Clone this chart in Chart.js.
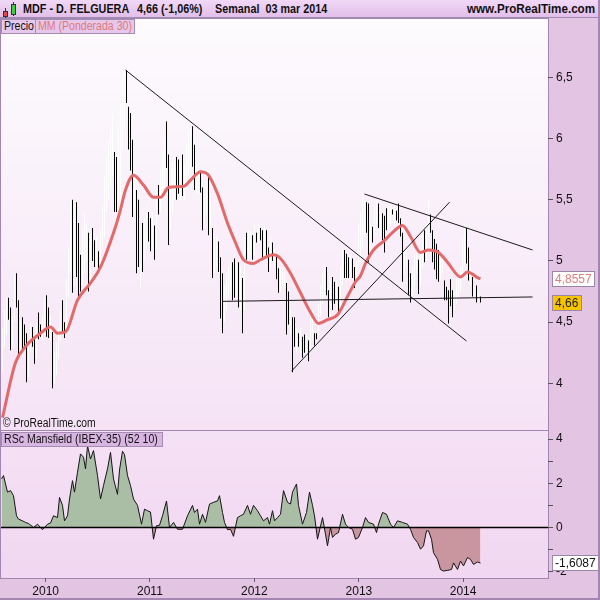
<!DOCTYPE html>
<html lang="es">
<head>
<meta charset="utf-8">
<title>MDF - D. FELGUERA</title>
<script src="https://cdn.jsdelivr.net/npm/chart.js@4.4.1/dist/chart.umd.min.js"></script>
<style>
  html, body { margin: 0; padding: 0; }
  body { width: 600px; height: 600px; position: relative; overflow: hidden; background: #e3c4e2; font-family: "Liberation Sans", Arial, sans-serif; }
  canvas { position: absolute; left: 0; }
  #main { top: 18px; }
  #rsc { top: 430px; }
  #head { position: absolute; left: 0; top: 0; width: 600px; height: 18px; box-sizing: border-box; background: linear-gradient(#f1d8f6, #e2bfe9); border-bottom: 1px solid #a58ab4; }
  .t { position: absolute; top: 2px; font-size: 12px; font-weight: bold; color: #111; white-space: nowrap; transform: scaleX(.9); transform-origin: left; }
  .tag { position: absolute; height: 15px; line-height: 13px; box-sizing: border-box; border: 1px solid #a58cb3; background: #e5c8eb; padding: 0 2px; white-space: nowrap; font-size: 12px; color: #111; }
  .tag span { display: inline-block; transform: scaleX(.88); transform-origin: left; }
  .candle { position: absolute; width: 5px; box-sizing: border-box; border: 1px solid #333; }
  .wick { position: absolute; width: 1px; background: #333; }
  #copy { position: absolute; left: 3px; top: 416px; font-size: 12px; color: #111; transform: scaleX(.86); transform-origin: left; white-space: nowrap; }
  #frame { position: absolute; left: 0; top: 0; width: 600px; height: 600px; box-sizing: border-box; border-right: 2px solid #a586b3; border-bottom: 2px solid #a586b3; pointer-events: none; }
</style>
</head>
<body>
<canvas id="main" width="600" height="412"></canvas>
<canvas id="rsc" width="600" height="170"></canvas>

<div id="head">
  <div class="wick" style="left:5px;top:8px;height:10px"></div>
  <div class="candle" style="left:3px;top:11px;height:6px;background:#e34848"></div>
  <div class="wick" style="left:13px;top:2px;height:14px"></div>
  <div class="candle" style="left:11px;top:4px;height:11px;background:#3fcf3f"></div>
  <span class="t" style="left:23px">MDF - D. FELGUERA</span>
  <span class="t" style="left:137px">4,66 (-1,06%)</span>
  <span class="t" style="left:215px">Semanal&nbsp;&nbsp;03 mar 2014</span>
  <span class="t" style="left:467px;transform:scaleX(.97)">www.ProRealTime.com</span>
</div>
<div class="tag" style="left:1px;top:19px;width:35px"><span>Precio</span></div>
<div class="tag" style="left:35px;top:19px;width:100px;color:#e07878"><span>MM (Ponderada 30)</span></div>
<div id="copy">© ProRealTime.com</div>
<div class="tag" style="left:1px;top:432px;width:162px;background:#d9b6e2"><span>RSc Mansfield (IBEX-35) (52 10)</span></div>
<div id="frame"></div>

<script>
// semanas: indice 0 = primera vela visible, 239 = 03 mar 2014
var highs = [
  4.45,4.60,4.70,4.70,4.62,4.55,4.88,4.90,4.68,4.50,
  4.54,4.48,4.41,4.30,4.50,4.46,4.37,4.50,4.58,4.48,
  4.55,4.70,4.72,4.62,4.55,4.42,4.25,4.33,4.45,4.60,
  4.68,4.50,4.85,5.11,5.50,5.50,5.45,5.48,5.31,5.05,
  5.25,5.40,5.30,5.23,5.20,5.27,5.17,5.20,5.08,5.25,
  5.45,5.70,5.85,5.97,6.10,6.20,5.89,5.85,6.10,6.30,
  6.50,6.57,6.56,6.26,6.21,5.99,5.70,5.58,5.50,4.98,
  5.31,5.35,5.45,5.40,5.35,5.40,5.29,5.50,5.62,5.75,
  5.90,6.00,6.14,5.87,5.60,5.80,5.85,5.85,5.83,5.80,
  5.87,5.80,5.95,6.05,6.10,6.10,5.95,5.80,5.75,5.72,
  5.60,5.55,5.65,5.70,5.50,5.27,5.20,5.20,5.16,5.03,
  4.90,4.80,4.90,4.95,5.00,4.99,5.02,5.00,4.99,4.95,
  4.86,5.20,5.23,5.25,5.25,5.21,5.30,5.23,5.30,5.27,
  5.25,5.28,5.25,5.11,5.20,5.15,5.10,5.05,4.94,4.95,
  4.95,4.90,4.82,4.75,4.60,4.54,4.54,4.45,4.41,4.45,
  4.38,4.40,4.40,4.35,4.55,4.60,4.41,4.41,4.65,4.80,
  4.90,4.97,4.95,4.76,4.85,4.87,4.83,4.85,4.79,4.95,
  5.09,5.09,5.06,5.03,5.05,5.02,4.95,5.00,5.30,5.40,
  5.55,5.50,5.48,5.47,5.30,5.28,5.45,5.50,5.47,5.40,
  5.39,5.37,5.43,5.45,5.45,5.42,5.45,5.41,5.47,5.35,
  5.23,5.10,5.10,5.01,4.90,4.95,5.05,5.05,5.01,5.10,
  5.25,5.25,5.30,5.50,5.38,5.25,5.18,5.14,5.09,5.05,
  5.05,4.84,4.79,4.76,4.85,4.76,4.75,4.85,4.90,4.95,
  5.20,5.30,5.27,5.11,4.95,4.87,4.80,4.80,4.75,4.71
];
var lows = [
  4.10,4.30,4.40,4.52,4.27,4.30,4.50,4.62,4.22,4.25,
  4.27,4.30,4.01,4.05,4.25,4.30,4.16,4.20,4.36,4.38,
  4.35,4.45,4.38,4.37,4.35,3.96,4.00,4.07,4.20,4.35,
  4.41,4.37,4.45,4.70,4.90,4.74,4.80,4.87,4.70,4.75,
  4.80,4.90,5.00,4.75,4.85,5.00,4.95,4.95,4.93,4.95,
  5.10,5.20,5.40,5.50,5.60,5.70,5.40,5.40,5.50,5.50,
  5.90,6.10,6.29,5.91,5.74,5.36,5.40,4.90,4.95,4.78,
  4.91,5.00,5.10,5.16,5.08,5.10,5.01,5.10,5.38,5.40,
  5.55,5.60,5.76,5.13,5.25,5.40,5.50,5.50,5.55,5.50,
  5.53,5.50,5.60,5.70,5.75,5.77,5.58,5.55,5.55,5.56,
  5.25,5.30,5.40,5.21,5.25,4.86,4.90,4.95,4.91,4.53,
  4.41,4.50,4.60,4.70,4.75,4.68,4.70,4.72,4.62,4.60,
  4.41,4.60,5.01,5.00,5.05,5.01,5.05,5.15,5.15,5.17,
  5.01,5.05,5.03,4.91,4.95,5.00,4.95,4.85,4.74,4.75,
  4.80,4.78,4.40,4.48,4.40,4.09,4.30,4.25,4.30,4.25,
  4.21,4.25,4.22,4.18,4.25,4.35,4.31,4.36,4.40,4.55,
  4.65,4.70,4.72,4.54,4.55,4.60,4.65,4.60,4.57,4.60,
  4.80,4.86,4.86,4.86,4.85,4.86,4.78,4.80,4.95,5.00,
  5.10,5.20,5.23,4.99,5.05,5.15,5.20,5.30,5.27,5.20,
  5.17,5.07,5.25,5.25,5.30,5.38,5.30,5.33,5.31,5.20,
  4.83,4.90,4.95,4.72,4.66,4.70,4.80,4.90,4.73,4.80,
  4.95,4.99,5.00,5.20,5.23,4.99,4.93,4.85,4.83,4.85,
  4.90,4.68,4.68,4.49,4.63,4.54,4.60,4.65,4.70,4.75,
  4.85,4.95,4.98,4.84,4.80,4.71,4.70,4.66,4.66,4.66
];
// u = semana alcista (barra blanca), d = bajista (barra negra)
var dirs = 'uuudduuddu' + 'ddduuddudd' + 'uudduduuuu' + 'dduuududdd' + 'uuududdudu' +
           'uuuuuudduu' + 'uudddduddu' + 'duuddududu' + 'uudduuuddu' + 'duuuudduud' +
           'duududuudd' + 'duuuuddudu' + 'duduududud' + 'duddududdu' + 'uudduddudu' +
           'dduduudduu' + 'uudduddudu' + 'udddudduuu' + 'uudduduudu' + 'ddduududdd' +
           'duudduuudu' + 'uduudddddu' + 'uddddduuuu' + 'uuddududud';

// media movil ponderada 30
var maWeek = [0,6.5,11.5,19,24,27.5,31.5,37.5,44,49,56.5,59,61.5,65.5,70.5,75.5,79,83,90.5,94,
  99,102.5,107.5,112.5,116.5,120.5,125.5,129,135.5,139,144,149,154,158,162.5,167.5,172.5,176.5,179,181.5,
  185.5,190.5,195.5,200,204,209,213,218,222.5,229,232.5,238,239];
var maValue = [3.72,4.17,4.30,4.41,4.46,4.41,4.42,4.68,4.82,4.95,5.28,5.42,5.58,5.70,5.62,5.52,5.52,5.60,5.61,5.66,
  5.73,5.71,5.55,5.31,5.15,5.01,4.98,5.01,5.05,5.02,4.90,4.74,4.58,4.49,4.52,4.56,4.71,4.83,4.88,4.98,
  5.09,5.16,5.24,5.29,5.20,5.07,5.09,5.07,4.99,4.87,4.91,4.86,4.8557];

// lineas de tendencia: [semana inicio, precio inicio, semana fin, precio fin]
var trendLines = [
  [61.5, 6.56, 232, 4.346],
  [181, 5.547, 265, 5.09],
  [144.5, 4.10, 223.5, 5.48],
  [110, 4.67, 265, 4.706]
];

// RSc Mansfield (IBEX-35)
var rscWeek = [-0.5,0.5,2.5,4,5.5,7,8,10,11.5,13,15.5,17.5,20,22.5,24,25.5,27.5,28.5,30,31,
  32.5,33.5,35,36,37.5,39,40.5,41.5,42.5,44,45.5,47.5,49,50.5,52.5,54,55.5,57.5,58.5,60,
  61,62.5,64,65.5,67.5,69.5,71,72.5,74,75.5,77,78.5,80,82,83.5,85.5,87.5,90,92.5,95,
  96,97.5,98.5,100,101.5,103.5,105.5,107.5,108.5,110,111,112.5,114,115.5,117.5,119,120.5,122.5,124,125.5,
  127.5,129,130.5,132.5,133.5,135,136,137.5,139,140.5,142.5,144,145,147,148,150,152,153.5,155,156,
  157.5,160,161.5,162.5,164,165,166.5,168,170,171.5,173,175,176.5,178,180,181.5,183,185.5,187,188,
  190,192,194,195.5,197.5,200,202.5,204,205.5,207.5,209,210.5,212,213,214.5,215.5,217.5,219,220.5,222.5,
  224.5,225.5,227.5,229,230.5,232.5,234,235.5,237.5,239];
var rscValue = [2.2,2.35,1.6,1.67,1.44,0.53,0.38,0.3,0.23,0.18,0,0.15,-0.1,0.15,0.2,0.53,0.45,1.36,1.0,0.3,
  0.53,1.29,2.12,1.6,2.5,3.33,3.18,2.65,3.7,3.1,3.48,2.35,1.29,1.9,2.65,3.4,2.2,1.5,2.6,3.45,
  3.3,2.35,1.9,1.29,1.0,0.15,0.83,0.76,0.7,-0.53,0.08,0.1,0.53,1.2,0,0.23,-0.08,-0.08,0.53,1.0,
  0.68,0.83,0.15,0.6,0.23,1.06,1.14,1.2,1.44,0.68,0.23,-0.1,-0.08,-0.4,0.45,0.53,0.6,1.0,0.6,1.0,
  0.76,0.53,0.3,0.45,0.15,0.76,0.3,0.45,0.6,1.67,1.14,1.06,1.6,1.97,1.0,0.15,0.68,1.6,1.0,0.53,
  -0.53,0.45,-0.3,-0.83,0,-0.45,-0.3,-0.23,0.6,0.15,0,-0.08,-0.53,-0.45,0,0.45,0.23,0.15,-0.23,0.15,
  0.68,0.6,0.15,0,0.3,0.23,0.15,-0.08,-0.45,-0.68,-0.98,-0.83,-0.15,-0.15,-0.53,-1.14,-1.44,-1.9,-1.97,-1.94,
  -1.9,-1.6,-1.9,-1.52,-1.74,-1.36,-1.44,-1.67,-1.56,-1.6087];

var priceTicks = [4, 4.5, 5, 5.5, 6, 6.5];
var rscTicks = [-2, -1, 0, 1, 2, 3, 4];
var rscTickLabels = ['-2', '', '0', '', '2', '', '4'];
var yearWeeks = [21.6, 73.7, 125.9, 178.2, 230.3];
var yearLabels = ['2010', '2011', '2012', '2013', '2014'];

var lastClose = 4.66;
var lastMA = maValue[maValue.length - 1];
var lastRsc = rscValue[rscValue.length - 1];

var xMin = -0.75, xMax = 272.75;
var fontFamily = '"Liberation Sans", Arial, sans-serif';

function comma(v) { return String(v).replace('.', ','); }

// sin margen extra por las etiquetas de los extremos
function fixY(s) { s.width = 52; s.paddingTop = 0; s.paddingBottom = 0; }
function fixX(s) { s.height = 22; s.paddingLeft = 0; s.paddingRight = 0; }

// fondo de paneles
var panelBg = {
  id: 'panelBg',
  beforeDraw: function (chart, args, opts) {
    var ctx = chart.ctx, a = chart.chartArea;
    ctx.save();
    ctx.fillStyle = '#e3c4e2';
    ctx.fillRect(0, 0, chart.width, chart.height);
    var g = ctx.createLinearGradient(0, a.top, 0, a.bottom);
    g.addColorStop(0, opts.top);
    g.addColorStop(1, opts.bottom);
    ctx.fillStyle = g;
    ctx.fillRect(a.left, a.top, a.right - a.left, a.bottom - a.top);
    ctx.strokeStyle = '#a286b2';
    ctx.lineWidth = 1;
    ctx.strokeRect(a.left - 0.5, a.top - 0.5, a.right - a.left + 1, a.bottom - a.top + 1);
    ctx.restore();
  }
};

// recuadros con el ultimo valor en el eje derecho
var valueBoxes = {
  id: 'valueBoxes',
  afterDraw: function (chart, args, opts) {
    var ctx = chart.ctx, ys = chart.scales.y, x = chart.chartArea.right + 4.5;
    ctx.save();
    ctx.font = '12px ' + fontFamily;
    ctx.textBaseline = 'middle';
    opts.items.forEach(function (b) {
      var y = Math.round(ys.getPixelForValue(b.value));
      var w = Math.ceil(ctx.measureText(b.text).width) + 5;
      ctx.fillStyle = b.bg;
      ctx.fillRect(x, y - 7.5, w, 15);
      ctx.strokeStyle = '#9a86a8';
      ctx.strokeRect(x, y - 7.5, w, 15);
      ctx.fillStyle = b.color;
      ctx.fillText(b.text, x + 2.5, y + 0.5);
    });
    ctx.restore();
  }
};

var bars = highs.map(function (h, i) { return { x: i, y: [lows[i], h] }; });

var datasets = [{
  type: 'bar',
  data: bars,
  backgroundColor: dirs.split('').map(function (d) { return d === 'u' ? '#ffffff' : '#000000'; }),
  barThickness: 1,
  inflateAmount: 0,
  order: 3
}, {
  type: 'line',
  data: maWeek.map(function (w, i) { return { x: w, y: maValue[i] }; }),
  borderColor: '#e26a6a',
  borderWidth: 3,
  pointRadius: 0,
  cubicInterpolationMode: 'monotone',
  order: 2
}];
trendLines.forEach(function (t) {
  datasets.push({
    type: 'line',
    data: [{ x: t[0], y: t[1] }, { x: t[2], y: t[3] }],
    borderColor: '#1a1a1a',
    borderWidth: 1,
    pointRadius: 0,
    order: 1
  });
});

new Chart(document.getElementById('main'), {
  type: 'bar',
  data: { datasets: datasets },
  options: {
    responsive: false,
    animation: false,
    devicePixelRatio: 1,
    layout: { padding: { left: 1, top: 1, right: 0, bottom: 0 } },
    plugins: {
      legend: { display: false },
      tooltip: { enabled: false },
      panelBg: { top: '#fdfbfe', bottom: '#f5e3f5' },
      valueBoxes: { items: [
        { value: lastMA, text: comma(lastMA), bg: '#ffffff', color: '#e07b7b' },
        { value: lastClose, text: comma(lastClose), bg: '#f6c500', color: '#222222' }
      ] }
    },
    scales: {
      x: { type: 'linear', min: xMin, max: xMax, display: false, offset: false },
      y: {
        position: 'right',
        min: 3.619, max: 6.977,
        afterFit: fixY,
        afterBuildTicks: function (s) { s.ticks = priceTicks.map(function (v) { return { value: v }; }); },
        ticks: { callback: function (v) { return comma(v); }, color: '#111', font: { size: 12, family: fontFamily }, padding: 3 },
        grid: { drawOnChartArea: false, tickLength: 5, tickColor: '#555', tickWidth: 1 },
        border: { display: false }
      }
    }
  },
  plugins: [panelBg, valueBoxes]
});

new Chart(document.getElementById('rsc'), {
  type: 'line',
  data: { datasets: [{
    data: rscWeek.map(function (w, i) { return { x: w, y: rscValue[i] }; }),
    borderColor: '#151515',
    borderWidth: 1,
    pointRadius: 0,
    fill: { target: { value: 0 }, above: '#a9bea4', below: '#c9959f' },
    order: 1
  }, {
    data: [{ x: xMin, y: 0 }, { x: xMax, y: 0 }],
    borderColor: '#000',
    borderWidth: 1.5,
    pointRadius: 0,
    order: 0
  }] },
  options: {
    responsive: false,
    animation: false,
    devicePixelRatio: 1,
    layout: { padding: { left: 1, top: 1, right: 0, bottom: 0 } },
    plugins: {
      legend: { display: false },
      tooltip: { enabled: false },
      panelBg: { top: '#f5e1f5', bottom: '#f1d7f1' },
      valueBoxes: { items: [
        { value: lastRsc, text: comma(lastRsc), bg: '#ffffff', color: '#111111' }
      ] }
    },
    scales: {
      x: {
        type: 'linear', min: xMin, max: xMax, offset: false,
        afterFit: fixX,
        afterBuildTicks: function (s) { s.ticks = yearWeeks.map(function (v) { return { value: v }; }); },
        ticks: { callback: function (v, i) { return yearLabels[i]; }, autoSkip: false, maxRotation: 0, color: '#111', font: { size: 12, family: fontFamily }, padding: 2 },
        grid: { drawOnChartArea: false, tickLength: 4, tickColor: '#6a5a78' },
        border: { display: false }
      },
      y: {
        position: 'right',
        min: -2.285, max: 4.366,
        afterFit: fixY,
        afterBuildTicks: function (s) { s.ticks = rscTicks.map(function (v) { return { value: v }; }); },
        ticks: { callback: function (v, i) { return rscTickLabels[i]; }, color: '#111', font: { size: 12, family: fontFamily }, padding: 3 },
        grid: { drawOnChartArea: false, tickLength: 5, tickColor: '#555' },
        border: { display: false }
      }
    }
  },
  plugins: [panelBg, valueBoxes]
});
</script>
</body>
</html>
